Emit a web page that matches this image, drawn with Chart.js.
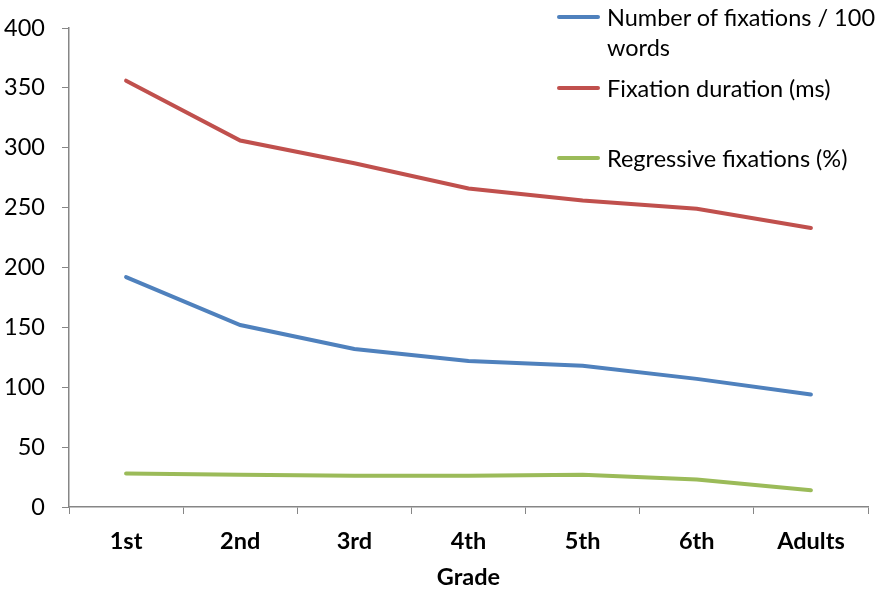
<!DOCTYPE html>
<html>
<head>
<meta charset="utf-8">
<script src="https://cdn.jsdelivr.net/npm/chart.js@4"></script>
<style>
  body { margin: 0; background: #fff; }
  #wrap { position: relative; width: 882px; height: 589px; }
  .legend-item { position: absolute; left: 557px; font-family: Lato, "Open Sans", sans-serif; font-size: 23.5px; color: #000; line-height: 30px; }
  .legend-item .swatch { position: absolute; left: 0; width: 43px; height: 4px; border-radius: 2px; }
  .legend-item .label { position: absolute; left: 50px; white-space: nowrap; }
</style>
</head>
<body>
<div id="wrap">
  <canvas id="chart" width="882" height="589"></canvas>
  <div id="legend"></div>
</div>
<script>
// ========== データ ==========
const grades = ["1st", "2nd", "3rd", "4th", "5th", "6th", "Adults"];
const fixationsPer100 = [192, 152, 132, 122, 118, 107, 94];
const fixationDuration = [356, 306, 287, 266, 256, 249, 233];
const regressiveFixations = [28, 27, 26, 26, 27, 23, 14];
const yTicks = [0, 50, 100, 150, 200, 250, 300, 350, 400];

const seriesNames = [["Number of fixations / 100", "words"], ["Fixation duration (ms)"], ["Regressive fixations (%)"]];
const seriesColors = ["#4F81BD", "#C0504D", "#9BBB59"];

// ========== 凡例 ==========
const legendTops = [2, 73, 143];
const legend = document.getElementById("legend");
seriesNames.forEach((lines, i) => {
  const item = document.createElement("div");
  item.className = "legend-item";
  item.style.top = legendTops[i] + "px";
  item.innerHTML = `<div class="swatch" style="background:${seriesColors[i]};top:13px"></div>` +
    `<div class="label">${lines.join("<br>")}</div>`;
  legend.appendChild(item);
});

// ========== グラフ ==========
const axisColor = "#868686";
const fontFamily = "Lato, 'Open Sans', sans-serif";
new Chart(document.getElementById("chart").getContext("2d"), {
  type: "line",
  data: {
    labels: grades,
    datasets: [fixationsPer100, fixationDuration, regressiveFixations].map((d, i) => ({
      label: seriesNames[i].join(" "),
      data: d,
      borderColor: seriesColors[i],
      backgroundColor: seriesColors[i],
      borderWidth: 4,
      pointRadius: 0,
      tension: 0,
      fill: false,
      borderCapStyle: "round"
    }))
  },
  options: {
    responsive: false,
    animation: false,
    layout: { padding: { top: 28, right: 14, left: 0, bottom: 0 } },
    plugins: { legend: { display: false }, tooltip: { enabled: false } },
    scales: {
      x: {
        offset: true,
        afterFit: axis => { axis.height = 82; },
        grid: { offset: true, drawOnChartArea: false, color: axisColor, tickLength: 7 },
        border: { color: axisColor, width: 1.5 },
        ticks: { color: "#000", font: { family: fontFamily, size: 23.5, weight: "bold" }, padding: 13 },
        title: { display: true, text: "Grade", color: "#000", font: { family: fontFamily, size: 23.5, weight: "bold" }, padding: { top: 0, bottom: -3 } }
      },
      y: {
        min: 0,
        max: 400,
        afterFit: axis => { axis.width = 69; axis.paddingTop = 0; axis.paddingBottom = 0; },
        afterBuildTicks: axis => { axis.ticks = yTicks.map(v => ({ value: v })); },
        grid: { drawOnChartArea: false, color: axisColor, tickLength: 7 },
        border: { color: axisColor, width: 1.5 },
        ticks: { color: "#000", font: { family: fontFamily, size: 23.5 }, padding: 17 }
      }
    }
  }
});
</script>
</body>
</html>
